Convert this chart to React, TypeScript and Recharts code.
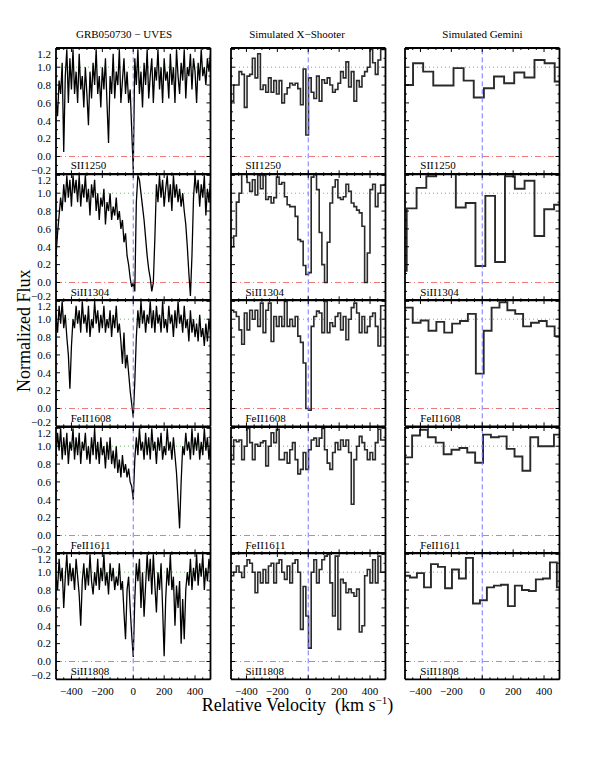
import React from "react";
import { LineChart, Line, XAxis, YAxis, ReferenceLine } from "recharts";

const SERIF = "'Liberation Serif', 'Times New Roman', 'DejaVu Serif', serif";

const TITLES = ["GRB050730 − UVES", "Simulated X−Shooter", "Simulated Gemini"];
const LINE_NAMES = ["SII1250", "SiII1304", "FeII1608", "FeII1611", "SiII1808"];

const X_TICKS = [-450, -400, -350, -300, -250, -200, -150, -100, -50, 0, 50, 100, 150, 200, 250, 300, 350, 400, 450];
const X_LABELS = [-400, -200, 0, 200, 400];
const Y_TICKS = [-0.2, -0.1, 0, 0.1, 0.2, 0.3, 0.4, 0.5, 0.6, 0.7, 0.8, 0.9, 1.0, 1.1, 1.2];
const Y_LABELS = [-0.2, 0, 0.2, 0.4, 0.6, 0.8, 1.0, 1.2];

// UVES: one value every 10 km/s from -500 to +500
const UVES_V0 = -500;
const UVES_DV = 10;
const UVES_SII1250 = [
  0.65, 0.45, 0.85, 0.7, 1.05, 0.05, 0.9, 1.2, 0.6, 1.1,
  0.75, 1.2, 0.7, 0.95, 0.6, 1.15, 0.75, 0.9, 0.55, 1.0,
  0.7, 0.35, 0.95, 0.65, 1.05, 0.8, 1.2, 0.7, 0.9, 0.55,
  1.0, 0.75, 1.1, 0.6, 0.15, 0.9, 0.7, 1.15, 0.65, 0.95,
  0.8, 1.2, 0.6, 0.85, 1.1, 0.7, 0.95, 0.6, 0.75, 0.3,
  -0.15,
  1.1, 0.8, 1.2, 0.7, 0.95, 0.55, 1.05, 0.8, 1.2, 0.65,
  0.9, 1.1, 0.6, 1.0, 0.85, 1.2, 0.75, 1.0, 0.6, 1.1,
  0.85, 0.95, 0.65, 1.15, 0.8, 1.0, 0.6, 1.2, 0.9, 0.7,
  1.05, 0.85, 1.2, 0.65, 1.0, 0.9, 1.15, 0.75, 1.1, 0.95,
  0.6, 1.05, 0.85, 1.2, 0.9, 1.0, 0.8, 1.1, 0.95, 1.15,
];
const UVES_SIII1304 = [
  0.3, 0.55, 0.75, 0.95, 0.8, 1.1, 0.9, 1.2, 0.95, 1.15,
  0.85, 1.2, 1.0, 1.15, 0.9, 1.2, 0.85, 1.1, 0.95, 1.2,
  0.9, 1.05, 0.75, 1.1, 0.95, 1.15, 0.8, 1.0, 0.7, 0.95,
  0.85, 1.05, 0.65, 0.9, 0.8, 1.0, 0.7, 0.85, 0.75, 0.95,
  0.7, 0.8, 0.6, 0.7, 0.45, 0.55, 0.3, 0.2, 0.05, -0.05,
  0.0,
  -0.1, 0.9, 1.2, 1.15, 1.0, 0.85, 0.7, 0.5, 0.3, 0.15,
  0.05, -0.1, 0.0, 0.5, 1.1, 0.9, 1.2, 0.95, 1.15, 0.85,
  1.05, 1.2, 0.9, 1.1, 0.8, 1.2, 0.95, 1.1, 0.9, 1.05,
  0.85, 1.0, 0.8, 0.65, 0.4, 0.1, -0.15, 0.3, 0.95, 1.2,
  1.0, 1.15, 0.85, 1.1, 0.95, 1.2, 0.75, 1.05, 0.9, 1.15,
];
const UVES_FEII1608 = [
  1.05, 0.85, 1.15, 0.95, 1.2, 0.9, 1.05, 0.8, 0.6, 0.22,
  0.7, 1.0, 0.9, 1.15, 0.95, 1.1, 0.85, 1.2, 0.95, 1.05,
  0.85, 1.15, 0.8, 1.0, 0.9, 1.2, 0.95, 1.1, 0.85, 1.05,
  0.9, 1.15, 0.85, 1.0, 0.9, 1.1, 0.8, 1.05, 0.9, 1.15,
  0.85, 0.95, 0.75, 0.5, 0.85, 0.45, 0.6, 0.4, 0.2, 0.05,
  -0.1,
  0.3, 0.8, 1.1, 0.9, 1.2, 0.95, 1.1, 0.85, 1.05, 0.95,
  1.2, 0.9, 1.1, 0.85, 1.15, 0.95, 1.05, 0.85, 1.2, 0.9,
  1.0, 0.85, 1.15, 0.95, 1.05, 0.8, 1.1, 0.9, 1.2, 0.95,
  1.05, 0.85, 1.15, 0.9, 1.0, 0.75, 1.1, 0.85, 1.0, 0.8,
  0.95, 0.75, 1.05, 0.8, 0.9, 0.7, 0.95, 0.75, 1.0, 0.85,
];
const UVES_FEII1611 = [
  0.9, 1.15, 0.95, 1.2, 0.85, 1.1, 0.9, 1.15, 0.8, 1.05,
  0.95, 1.2, 0.85, 1.1, 0.9, 1.15, 0.8, 1.05, 0.95, 1.15,
  0.85, 1.0, 0.8, 1.1, 0.9, 1.2, 0.85, 1.05, 0.8, 1.1,
  0.9, 1.0, 0.75, 1.05, 0.85, 1.1, 0.8, 0.95, 0.75, 1.0,
  0.7, 0.85, 0.65, 0.9, 0.7, 0.8, 0.65, 0.75, 0.6, 0.55,
  0.4,
  0.85, 1.1, 0.9, 1.2, 0.95, 1.05, 0.85, 1.15, 0.9, 1.1,
  0.85, 1.2, 0.95, 1.05, 0.8, 1.1, 0.95, 1.15, 0.85, 1.0,
  0.9, 1.2, 0.95, 1.05, 0.85, 1.1, 0.9, 0.7, 0.4, 0.08,
  0.6, 1.0, 0.9, 1.15, 0.95, 1.05, 0.85, 1.2, 0.9, 1.1,
  0.95, 1.15, 0.85, 1.05, 0.9, 1.2, 0.95, 1.1, 0.85, 1.05,
];
const UVES_SIII1808 = [
  0.95, 0.8, 1.15, 0.9, 1.05, 0.6, 0.95, 1.2, 0.85, 1.1,
  0.9, 1.05, 0.8, 1.15, 0.95, 0.75, 0.4, 0.9, 1.1, 0.8,
  1.05, 0.85, 1.2, 0.9, 0.75, 1.0, 0.85, 1.15, 0.8, 1.05,
  0.9, 1.2, 0.85, 1.0, 0.75, 1.1, 0.9, 1.05, 0.8, 0.95,
  0.85, 1.1, 0.8, 0.9, 0.55, 0.25, 0.8, 0.95, 0.6, 0.3,
  0.05,
  0.7, 1.1, 0.9, 1.15, 0.6, 1.0, 0.5, 0.85, 1.2, 0.9,
  1.15, 0.75, 1.2, 0.85, 0.55, 1.0, 0.8, 1.1, 0.6, 0.06,
  0.7, 1.05, 0.85, 1.2, 0.8, 0.95, 0.4, 0.85, 0.6, 0.9,
  0.2, 0.7, 0.25, 0.8, 1.0, 0.85, 1.15, 0.8, 1.05, 0.9,
  1.2, 0.85, 1.1, 0.95, 1.2, 0.8, 1.05, 0.9, 1.15, 1.0,
];

// Simulated X-Shooter: bins of 17.3 km/s starting at -500
const XSH_V0 = -500;
const XSH_DV = 17.3;
const XSH_SII1250 = [
  0.62, 0.8, 0.8, 0.95, 0.92, 0.55, 0.9, 0.92, 1.1, 0.88,
  1.15, 0.75, 0.8, 0.72, 0.88, 0.72, 0.85, 0.7, 0.85, 0.6,
  0.7, 0.77, 0.82, 0.8, 0.82, 0.76, 0.58, 0.98, 0.24, 0.88,
  0.72, 0.65, 0.9, 0.62, 0.86, 0.82, 0.88, 0.8, 0.72, 0.75,
  0.82, 0.95, 0.88, 1.06, 0.78, 0.95, 0.62, 0.85, 0.78, 0.9,
  0.95, 1.0, 1.2, 1.05, 0.92, 1.08, 1.2,
];
const XSH_SIII1304 = [
  0.4, 0.52, 0.9, 1.0, 1.22, 1.25, 1.12, 1.02, 1.15, 0.98,
  1.2, 1.05, 1.2, 0.93, 0.96, 0.89, 0.95, 1.18, 1.1, 1.12,
  0.96, 0.87, 0.85, 0.85, 0.74, 0.48, 0.46, 0.19, 0.09, 0.11,
  1.18, 1.25, 1.04, 0.56, 0.2, 0.0, 0.45, 0.89, 1.07, 1.15,
  0.95, 0.93, 0.96, 1.1, 1.02, 0.89, 0.85, 0.81, 0.78, 0.63,
  0.0, 0.33, 1.04, 1.1, 0.85, 1.0, 1.09,
];
const XSH_FEII1608 = [
  1.1, 1.08, 1.03, 0.88, 0.72, 1.07, 0.88, 1.1, 1.0, 1.1,
  0.92, 1.18, 0.85, 1.1, 1.18, 0.75, 1.03, 0.92, 1.03, 0.92,
  1.2, 0.92, 1.0, 0.92, 1.03, 0.81, 0.74, 0.51, 0.0, -0.02,
  0.92, 1.03, 1.09, 1.07, 0.85, 1.2, 0.85, 0.96, 0.92, 1.03,
  1.07, 0.88, 1.03, 0.77, 1.0, 1.13, 1.18, 1.07, 0.85, 1.03,
  0.85, 0.92, 1.03, 1.07, 0.92, 0.7, 1.15,
];
const XSH_FEII1611 = [
  0.85, 1.07, 1.05, 1.07, 0.85, 1.0, 1.2, 1.04, 0.85, 1.02,
  1.0, 1.04, 1.06, 0.78, 1.0, 1.15, 1.04, 1.19, 0.85, 0.85,
  0.93, 0.81, 0.96, 1.04, 0.85, 0.69, 0.74, 0.93, 0.74, 0.96,
  1.07, 1.09, 1.0, 1.09, 1.2, 0.96, 0.81, 0.74, 0.93, 1.04,
  0.96, 1.07, 1.0, 1.07, 0.93, 0.35, 0.85, 1.0, 1.11, 1.04,
  0.96, 0.85, 0.93, 0.85, 1.04, 1.19, 1.07,
];
const XSH_SIII1808 = [
  0.96, 1.0, 1.07, 1.0, 0.94, 1.07, 1.14, 1.1, 1.0, 0.77,
  1.0, 0.88, 1.03, 0.88, 1.07, 1.1, 0.88, 1.1, 1.14, 1.0,
  0.92, 1.07, 0.88, 1.1, 1.14, 1.0, 0.36, 0.84, 0.51, 0.15,
  1.0, 1.14, 0.88, 1.03, 1.14, 1.18, 1.2, 0.88, 0.51, 1.18,
  0.36, 0.92, 0.88, 0.77, 0.81, 0.77, 0.73, 0.81, 0.33, 0.4,
  0.96, 1.03, 0.88, 1.14, 0.88, 1.18, 1.0,
];

// Simulated Gemini: bin start velocities and binned flux
const GEM_SII1250_V = [-500, -448, -382.5, -317, -251.5, -186, -120.5, -55, 10.5, 76, 141.5, 207, 272.5, 338, 403.5, 469];
const GEM_SII1250_F = [0.8, 1.045, 0.95, 0.795, 0.795, 0.99, 0.85, 0.66, 0.765, 0.895, 0.82, 0.94, 0.885, 1.08, 1.045, 0.84];
const GEM_SIII1304_V = [-500, -489, -425, -362, -298, -235, -171, -107, -44, 20, 83, 147, 211, 274, 338, 401, 465];
const GEM_SIII1304_F = [0.13, 0.83, 1.06, 1.19, 1.3, 1.3, 0.84, 0.89, 0.185, 0.97, 0.23, 1.19, 1.05, 1.14, 0.52, 0.82, 0.87];
const GEM_FEII1608_V = [-500, -450, -399, -348, -297, -246, -195, -144, -93, -41.5, 9.5, 60.5, 111.5, 162.5, 213.5, 264.5, 315.5, 366.5, 417.5, 468.5];
const GEM_FEII1608_F = [1.13, 0.96, 0.985, 0.87, 0.97, 0.85, 0.95, 0.98, 1.06, 0.39, 0.87, 1.13, 1.19, 1.1, 1.06, 0.92, 0.96, 0.98, 0.92, 0.81];
const GEM_FEII1611_V = [-500, -454, -403, -352, -301, -250, -199, -148, -97, -46, 5, 56, 107, 158, 209, 260, 311, 362, 413, 464];
const GEM_FEII1611_F = [0.875, 1.12, 1.185, 1.1, 1.04, 0.91, 0.96, 0.98, 0.93, 0.815, 1.13, 1.1, 1.11, 0.97, 0.885, 0.725, 1.1, 1.0, 1.0, 1.13];
const GEM_SIII1808_V = [-500, -468, -423, -377, -332, -287, -241, -196, -151, -106, -60, -15, 30, 76, 121, 166, 211, 257, 302, 347, 393, 438, 483];
const GEM_SIII1808_F = [0.96, 0.94, 0.99, 0.83, 1.09, 1.06, 0.82, 1.03, 0.93, 1.16, 0.65, 0.685, 0.83, 0.85, 0.86, 0.62, 0.85, 0.8, 0.79, 0.92, 0.93, 1.11, 0.83];

const V_MIN = -500;
const V_MAX = 500;
const Y_MIN = -0.2;
const Y_MAX = 1.215;

// panel geometry (page pixels)
const COL_X = [55.7, 230.5, 405.3];
const PW = 154.5;
const ROW_Y0 = 47.5;
const PH = 126.35;
const ML = 42;
const MR = 6;
const MT = 6;
const MB = 24;
const AX = 1; // thickness reserved by each axis, taken out of the margins

type Row = { v: number; f: number };

function gridRows(flux: number[], v0: number, dv: number, closeEnd: boolean): Row[] {
  const rows = flux.map((f, i) => ({ v: v0 + i * dv, f }));
  if (closeEnd) rows.push({ v: V_MAX, f: flux[flux.length - 1] });
  return rows;
}

function binRows(vs: number[], flux: number[]): Row[] {
  const rows = vs.map((v, i) => ({ v, f: flux[i] }));
  rows.push({ v: V_MAX, f: flux[flux.length - 1] });
  return rows;
}

const UVES = [UVES_SII1250, UVES_SIII1304, UVES_FEII1608, UVES_FEII1611, UVES_SIII1808].map((f) =>
  gridRows(f, UVES_V0, UVES_DV, false)
);
const XSH = [XSH_SII1250, XSH_SIII1304, XSH_FEII1608, XSH_FEII1611, XSH_SIII1808].map((f) =>
  gridRows(f, XSH_V0, XSH_DV, true)
);
const GEM = [
  binRows(GEM_SII1250_V, GEM_SII1250_F),
  binRows(GEM_SIII1304_V, GEM_SIII1304_F),
  binRows(GEM_FEII1608_V, GEM_FEII1608_F),
  binRows(GEM_FEII1611_V, GEM_FEII1611_F),
  binRows(GEM_SIII1808_V, GEM_SIII1808_F),
];

const minus = (s: string) => s.replace("-", "−");
const near = (a: number, b: number) => Math.abs(a - b) < 1e-6;

function XTick(props: any) {
  const { x, y, payload, side, labels } = props;
  const v = payload.value;
  const major = X_LABELS.some((t) => near(t, v));
  const len = major ? 4 : 2;
  const d = side === "bottom" ? -len : len;
  return (
    <g>
      <line x1={x} x2={x} y1={y} y2={y + d} stroke="#000" strokeWidth={1} />
      {labels && major ? (
        <text x={x} y={y + 16} textAnchor="middle" fontSize={11} fontFamily={SERIF} fill="#000">
          {minus(String(v))}
        </text>
      ) : null}
    </g>
  );
}

function YTick(props: any) {
  const { x, y, payload, side, labels } = props;
  const v = payload.value;
  const major = Y_LABELS.some((t) => near(t, v));
  const len = major ? 4 : 2;
  const d = side === "left" ? len : -len;
  // the end labels sit a little inside the panel, as in the original
  let shift = 0;
  if (near(v, Y_MIN)) shift = -4.5;
  if (near(v, 1.2)) shift = 4.5;
  return (
    <g>
      <line x1={x} x2={x + d} y1={y} y2={y} stroke="#000" strokeWidth={1} />
      {labels && major ? (
        <text x={x - 5} y={y + 3.8 + shift} textAnchor="end" fontSize={11} fontFamily={SERIF} fill="#000">
          {minus(v.toFixed(1))}
        </text>
      ) : null}
    </g>
  );
}

const AXIS_LINE = { stroke: "#000", strokeWidth: 1.8 };

function Panel({ rows, col, row }: { rows: Row[]; col: number; row: number }) {
  const left = COL_X[col];
  const top = ROW_Y0 + row * PH;
  const uves = col === 0;
  return (
    <div style={{ position: "absolute", left: left - ML, top: top - MT }}>
      <LineChart
        width={PW + ML + MR}
        height={PH + MT + MB}
        data={rows}
        margin={{ top: MT - AX, right: MR - AX, bottom: MB - AX, left: ML - AX }}
      >
        <XAxis
          xAxisId="b"
          dataKey="v"
          type="number"
          domain={[V_MIN, V_MAX]}
          allowDataOverflow
          ticks={X_TICKS}
          interval={0}
          height={AX}
          tickSize={0}
          tickMargin={0}
          tickLine={false}
          axisLine={AXIS_LINE}
          tick={<XTick side="bottom" labels={row === 4} />}
        />
        <XAxis
          xAxisId="t"
          orientation="top"
          dataKey="v"
          type="number"
          domain={[V_MIN, V_MAX]}
          allowDataOverflow
          ticks={X_TICKS}
          interval={0}
          height={AX}
          tickSize={0}
          tickMargin={0}
          tickLine={false}
          axisLine={AXIS_LINE}
          tick={<XTick side="top" labels={false} />}
        />
        <YAxis
          yAxisId="l"
          type="number"
          domain={[Y_MIN, Y_MAX]}
          allowDataOverflow
          ticks={Y_TICKS}
          interval={0}
          width={AX}
          tickSize={0}
          tickMargin={0}
          tickLine={false}
          axisLine={AXIS_LINE}
          tick={<YTick side="left" labels={uves} />}
        />
        <YAxis
          yAxisId="r"
          orientation="right"
          type="number"
          domain={[Y_MIN, Y_MAX]}
          allowDataOverflow
          ticks={Y_TICKS}
          interval={0}
          width={AX}
          tickSize={0}
          tickMargin={0}
          tickLine={false}
          axisLine={AXIS_LINE}
          tick={<YTick side="right" labels={false} />}
        />
        <ReferenceLine xAxisId="b" yAxisId="l" y={1} stroke="#66bb66" strokeWidth={1} strokeDasharray="1 3" />
        <ReferenceLine xAxisId="b" yAxisId="l" y={0} stroke="#ee7777" strokeWidth={1} strokeDasharray="6 3 1 3" />
        <Line
          xAxisId="b"
          yAxisId="l"
          dataKey="f"
          type={uves ? "linear" : "stepAfter"}
          stroke={uves ? "#000" : "#2a2a2a"}
          strokeWidth={uves ? 1.3 : col === 1 ? 1.6 : 1.9}
          dot={false}
          activeDot={false}
          isAnimationActive={false}
        />
        <ReferenceLine xAxisId="b" yAxisId="l" x={0} stroke="#7777ff" strokeWidth={1} strokeDasharray="5 3" />
      </LineChart>
    </div>
  );
}

const TITLE_X = [124, 297, 482.5];

export default function App() {
  const cols = [UVES, XSH, GEM];
  return (
    <div style={{ position: "absolute", left: 0, top: 0, width: 595, height: 770, background: "#fff" }}>
      {cols.map((panels, c) => panels.map((rows, r) => <Panel key={c + "-" + r} rows={rows} col={c} row={r} />))}
      <svg
        width={595}
        height={770}
        style={{ position: "absolute", left: 0, top: 0, pointerEvents: "none" }}
        fontFamily={SERIF}
      >
        {TITLES.map((t, c) => (
          <text key={t} x={TITLE_X[c]} y={37.5} textAnchor="middle" fontSize={11} fill="#000">
            {t}
          </text>
        ))}
        {COL_X.map((x, c) =>
          LINE_NAMES.map((n, r) => (
            <text key={c + n} x={x + 15} y={ROW_Y0 + (r + 1) * PH - 4.4} fontSize={11} fill="#000">
              {n}
            </text>
          ))
        )}
        <text x={297.5} y={711} textAnchor="middle" fontSize={18} fill="#000" style={{ whiteSpace: "pre" }}>
          {"Relative Velocity  (km s"}
          <tspan dy={-7} fontSize={11}>
            −1
          </tspan>
          <tspan dy={7}>)</tspan>
        </text>
        <text x={30} y={392} fontSize={18} fill="#000" transform="rotate(-90 30 392)">
          Normalized Flux
        </text>
      </svg>
    </div>
  );
}
